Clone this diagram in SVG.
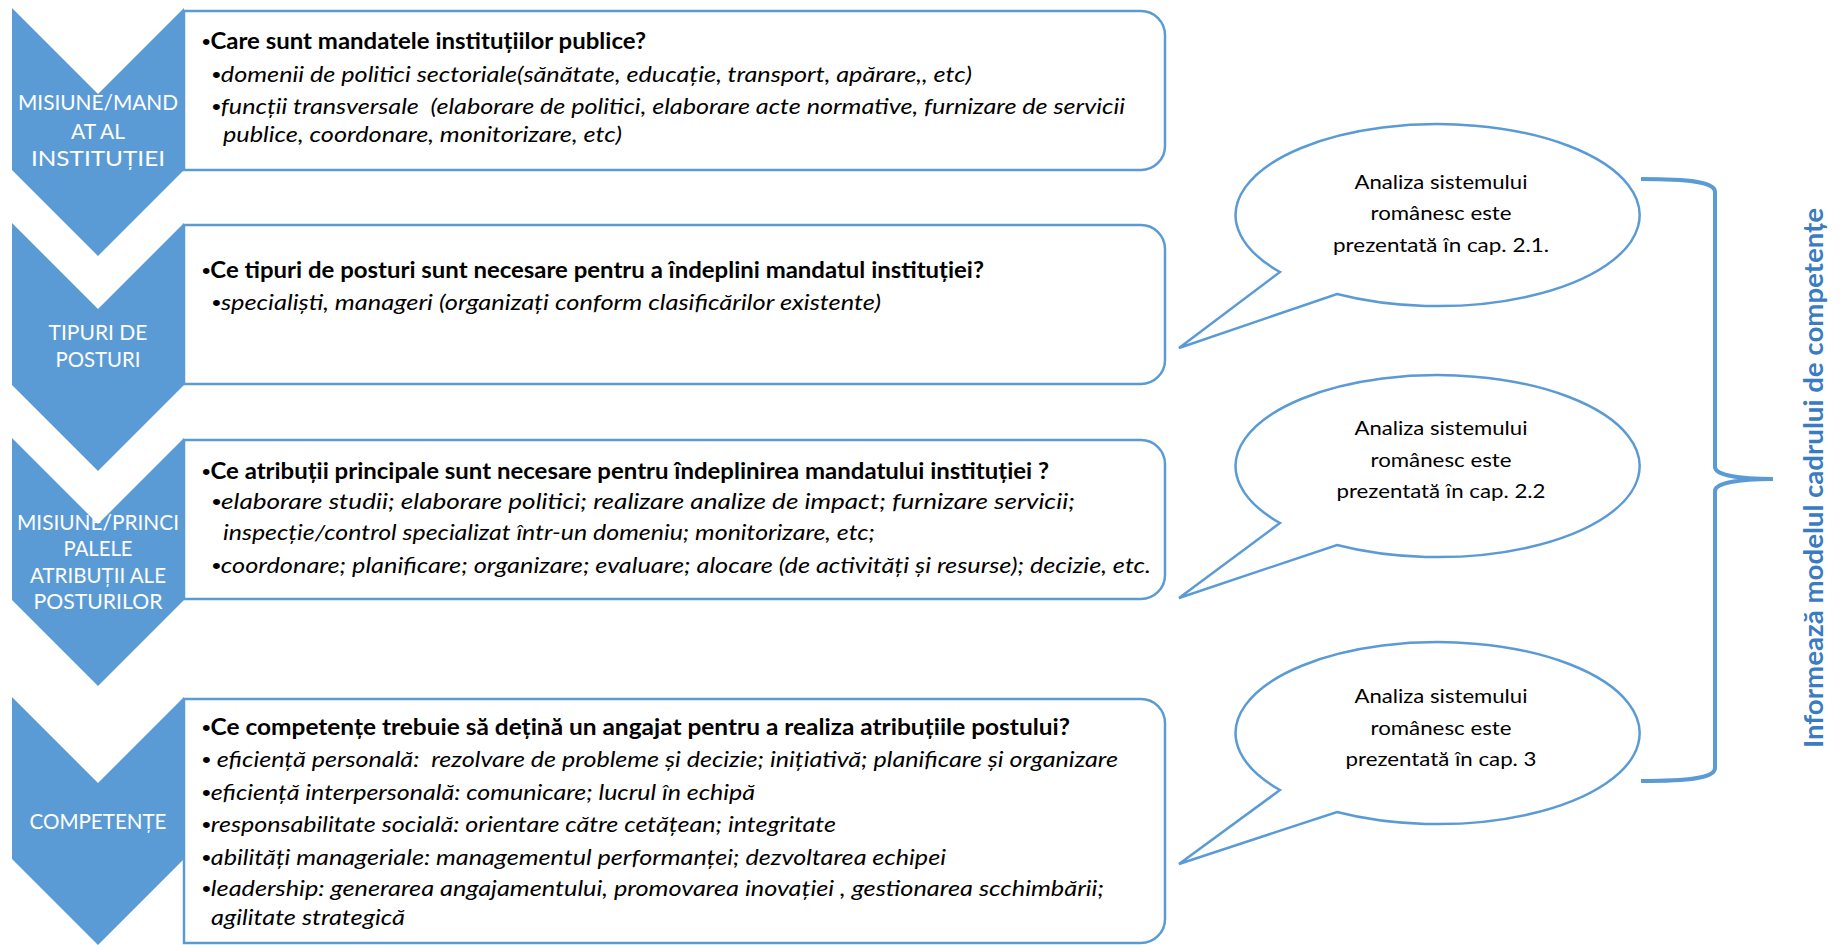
<svg xmlns="http://www.w3.org/2000/svg" width="1841" height="945" viewBox="0 0 1841 945">
  <style>
    text { font-family: Lato, "Liberation Sans", "DejaVu Sans", sans-serif; }
    .chev { fill: #5B9BD5; }
    .box { fill: #FFFFFF; stroke: #5B9BD5; stroke-width: 2.5; }
    .lbl { font-size: 21px; fill: #FFFFFF; text-anchor: middle; }
    .q { font-size: 22px; font-weight: 700; fill: #000000; }
    .it { font-size: 22px; font-style: italic; fill: #000000; }
    .b { font-family: "Liberation Sans", sans-serif; font-style: normal; font-weight: 400; }
    .call { fill: #FFFFFF; stroke: #5B9BD5; stroke-width: 2.5; stroke-linejoin: miter; }
    .ct { font-size: 20px; fill: #000000; text-anchor: middle; }
    .brace { fill: none; stroke: #5B9BD5; stroke-width: 4; stroke-linecap: butt; }
    .side { font-size: 27px; font-weight: 700; fill: #3A7CC2; text-anchor: middle; }
  </style>

  <rect width="1841" height="945" fill="#FFFFFF"/>

  <!-- Step 1: mandate -->
  <g id="step-mandat">
    <path class="box" d="M184 11 H1141 A24 24 0 0 1 1165 35 V146 A24 24 0 0 1 1141 170 H184 Z"/>
    <polygon class="chev" points="12,8 98,94 184,8 184,170 98,256 12,170"/>
    <text class="lbl" x="98" y="110" textLength="160" lengthAdjust="spacingAndGlyphs">MISIUNE/MAND</text>
    <text class="lbl" x="98" y="139">AT AL</text>
    <text class="lbl" x="98" y="166" textLength="134" lengthAdjust="spacingAndGlyphs">INSTITUȚIEI</text>
    <text class="q" x="202" y="49" textLength="444" lengthAdjust="spacingAndGlyphs"><tspan class="b">•</tspan>Care sunt mandatele instituțiilor publice?</text>
    <text class="it" x="212" y="82" textLength="760" lengthAdjust="spacingAndGlyphs"><tspan class="b">•</tspan>domenii de politici sectoriale(sănătate, educație, transport, apărare,, etc)</text>
    <text class="it" x="212" y="114" xml:space="preserve" textLength="913" lengthAdjust="spacingAndGlyphs"><tspan class="b">•</tspan>funcții transversale  (elaborare de politici, elaborare acte normative, furnizare de servicii</text>
    <text class="it" x="223" y="142" textLength="399" lengthAdjust="spacingAndGlyphs">publice, coordonare, monitorizare, etc)</text>
  </g>

  <!-- Step 2: job types -->
  <g id="step-posturi">
    <path class="box" d="M184 225 H1141 A24 24 0 0 1 1165 249 V360 A24 24 0 0 1 1141 384 H184 Z"/>
    <polygon class="chev" points="12,223 98,309 184,223 184,385 98,471 12,385"/>
    <text class="lbl" x="98" y="340" textLength="99" lengthAdjust="spacingAndGlyphs">TIPURI DE</text>
    <text class="lbl" x="98" y="367" textLength="85" lengthAdjust="spacingAndGlyphs">POSTURI</text>
    <text class="q" x="202" y="278" textLength="782" lengthAdjust="spacingAndGlyphs"><tspan class="b">•</tspan>Ce tipuri de posturi sunt necesare pentru a îndeplini mandatul instituției?</text>
    <text class="it" x="212" y="310" textLength="669" lengthAdjust="spacingAndGlyphs"><tspan class="b">•</tspan>specialiști, manageri (organizați conform clasificărilor existente)</text>
  </g>

  <!-- Step 3: main duties -->
  <g id="step-atributii">
    <path class="box" d="M184 440 H1141 A24 24 0 0 1 1165 464 V575 A24 24 0 0 1 1141 599 H184 Z"/>
    <polygon class="chev" points="12,438 98,524 184,438 184,600 98,686 12,600"/>
    <text class="lbl" x="98" y="530" textLength="162" lengthAdjust="spacingAndGlyphs">MISIUNE/PRINCI</text>
    <text class="lbl" x="98" y="556" textLength="69" lengthAdjust="spacingAndGlyphs">PALELE</text>
    <text class="lbl" x="98" y="583" textLength="136" lengthAdjust="spacingAndGlyphs">ATRIBUȚII ALE</text>
    <text class="lbl" x="98" y="609" textLength="129" lengthAdjust="spacingAndGlyphs">POSTURILOR</text>
    <text class="q" x="202" y="479" textLength="847" lengthAdjust="spacingAndGlyphs"><tspan class="b">•</tspan>Ce atribuții principale sunt necesare pentru îndeplinirea mandatului instituției ?</text>
    <text class="it" x="212" y="509" textLength="863" lengthAdjust="spacingAndGlyphs"><tspan class="b">•</tspan>elaborare studii; elaborare politici; realizare analize de impact; furnizare servicii;</text>
    <text class="it" x="223" y="540" textLength="652" lengthAdjust="spacingAndGlyphs">inspecție/control specializat într-un domeniu; monitorizare, etc;</text>
    <text class="it" x="212" y="573" textLength="939" lengthAdjust="spacingAndGlyphs"><tspan class="b">•</tspan>coordonare; planificare; organizare; evaluare; alocare (de activități și resurse); decizie, etc.</text>
  </g>

  <!-- Step 4: competences -->
  <g id="step-competente">
    <path class="box" d="M184 699 H1141 A24 24 0 0 1 1165 723 V919 A24 24 0 0 1 1141 943 H184 Z"/>
    <polygon class="chev" points="12,697 98,783 184,697 184,859 98,945 12,859"/>
    <text class="lbl" x="98" y="829" textLength="137" lengthAdjust="spacingAndGlyphs">COMPETENȚE</text>
    <text class="q" x="202" y="735" textLength="868" lengthAdjust="spacingAndGlyphs"><tspan class="b">•</tspan>Ce competențe trebuie să dețină un angajat pentru a realiza atribuțiile postului?</text>
    <text class="it" x="202" y="767" xml:space="preserve" textLength="916" lengthAdjust="spacingAndGlyphs"><tspan class="b">•</tspan> eficiență personală:  rezolvare de probleme și decizie; inițiativă; planificare și organizare</text>
    <text class="it" x="202" y="800" textLength="553" lengthAdjust="spacingAndGlyphs"><tspan class="b">•</tspan>eficiență interpersonală: comunicare; lucrul în echipă</text>
    <text class="it" x="202" y="832" textLength="634" lengthAdjust="spacingAndGlyphs"><tspan class="b">•</tspan>responsabilitate socială: orientare către cetățean; integritate</text>
    <text class="it" x="202" y="865" textLength="744" lengthAdjust="spacingAndGlyphs"><tspan class="b">•</tspan>abilități manageriale: managementul performanței; dezvoltarea echipei</text>
    <text class="it" x="202" y="896" textLength="902" lengthAdjust="spacingAndGlyphs"><tspan class="b">•</tspan>leadership: generarea angajamentului, promovarea inovației , gestionarea scchimbării;</text>
    <text class="it" x="211" y="925" textLength="194" lengthAdjust="spacingAndGlyphs">agilitate strategică</text>
  </g>

  <!-- Callouts pointing back at the boxes -->
  <g id="callout-1">
    <path class="call" d="M1280 272 A202 91 0 1 1 1337 294 L1179 348 Z"/>
    <text class="ct" x="1441" y="189" textLength="173" lengthAdjust="spacingAndGlyphs">Analiza sistemului</text>
    <text class="ct" x="1441" y="220" textLength="141" lengthAdjust="spacingAndGlyphs">românesc este</text>
    <text class="ct" x="1441" y="252" textLength="216" lengthAdjust="spacingAndGlyphs">prezentată în cap. 2.1.</text>
  </g>

  <g id="callout-2">
    <path class="call" d="M1280 523 A202 91 0 1 1 1337 545 L1179 598 Z"/>
    <text class="ct" x="1441" y="435" textLength="173" lengthAdjust="spacingAndGlyphs">Analiza sistemului</text>
    <text class="ct" x="1441" y="467" textLength="141" lengthAdjust="spacingAndGlyphs">românesc este</text>
    <text class="ct" x="1441" y="498" textLength="209" lengthAdjust="spacingAndGlyphs">prezentată în cap. 2.2</text>
  </g>

  <g id="callout-3">
    <path class="call" d="M1280 790 A202 91 0 1 1 1337 812 L1179 864 Z"/>
    <text class="ct" x="1441" y="703" textLength="173" lengthAdjust="spacingAndGlyphs">Analiza sistemului</text>
    <text class="ct" x="1441" y="735" textLength="141" lengthAdjust="spacingAndGlyphs">românesc este</text>
    <text class="ct" x="1441" y="766" textLength="191" lengthAdjust="spacingAndGlyphs">prezentată în cap. 3</text>
  </g>

  <!-- Brace gathering the three callouts -->
  <g id="connectors">
    <path class="brace" d="M1641 179 C1690 179 1715 182 1715 192 L1715 467 C1715 475 1738 479 1773 479 C1738 479 1715 483 1715 491 L1715 768 C1715 778 1690 781 1641 781"/>
  </g>

  <g id="summary">
    <text class="side" transform="translate(1823 478) rotate(-90)" x="0" y="0" textLength="540" lengthAdjust="spacingAndGlyphs">Informează modelul cadrului de competențe</text>
  </g>
</svg>
